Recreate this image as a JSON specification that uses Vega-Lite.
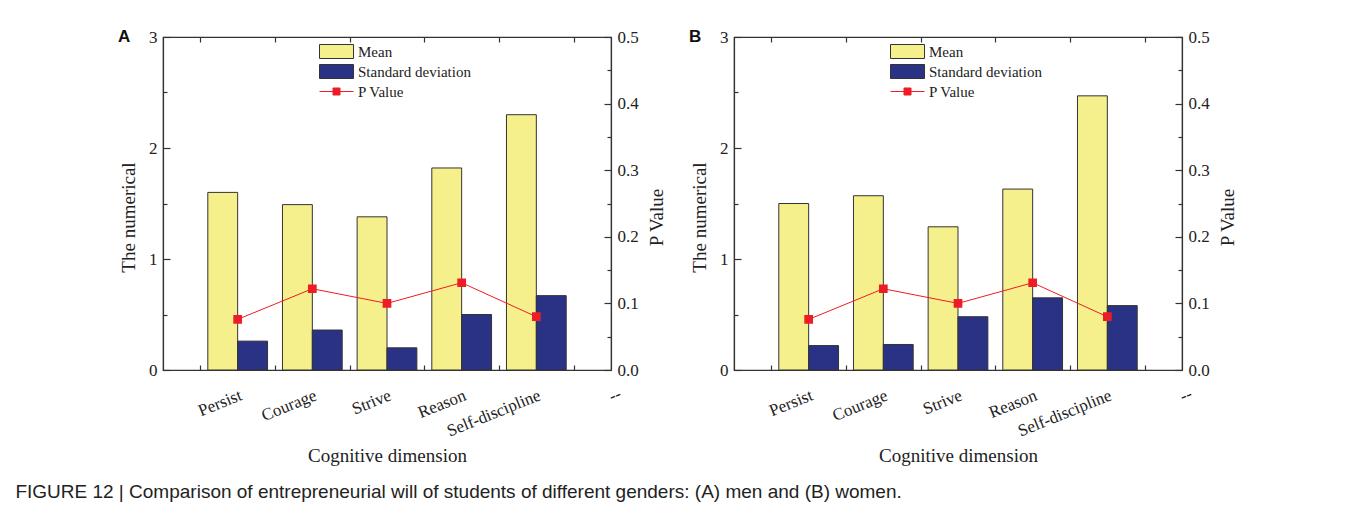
{
  "$schema": "https://vega.github.io/schema/vega-lite/v6.json",
  "padding": {"left": 15, "top": 27, "right": 5, "bottom": 5},
  "background": "white",
  "config": {
    "view": {"stroke": "#333", "strokeWidth": 1.2},
    "font": "Liberation Serif",
    "axis": {"domainColor": "#333", "domainWidth": 1.2, "tickColor": "#333", "tickWidth": 1.2, "labelColor": "#222", "titleColor": "#222", "labelFont": "Liberation Serif", "titleFont": "Liberation Serif", "titleFontWeight": "normal", "labelFontSize": 17, "titleFontSize": 19, "grid": false}
  },
  "datasets": {
    "bars": [
      {"panel": "A", "cat": "Persist", "series": "Mean", "value": 1.6},
      {"panel": "A", "cat": "Persist", "series": "Standard deviation", "value": 0.26},
      {"panel": "A", "cat": "Courage", "series": "Mean", "value": 1.49},
      {"panel": "A", "cat": "Courage", "series": "Standard deviation", "value": 0.36},
      {"panel": "A", "cat": "Strive", "series": "Mean", "value": 1.38},
      {"panel": "A", "cat": "Strive", "series": "Standard deviation", "value": 0.2},
      {"panel": "A", "cat": "Reason", "series": "Mean", "value": 1.82},
      {"panel": "A", "cat": "Reason", "series": "Standard deviation", "value": 0.5},
      {"panel": "A", "cat": "Self-discipline", "series": "Mean", "value": 2.3},
      {"panel": "A", "cat": "Self-discipline", "series": "Standard deviation", "value": 0.67},
      {"panel": "B", "cat": "Persist", "series": "Mean", "value": 1.5},
      {"panel": "B", "cat": "Persist", "series": "Standard deviation", "value": 0.22},
      {"panel": "B", "cat": "Courage", "series": "Mean", "value": 1.57},
      {"panel": "B", "cat": "Courage", "series": "Standard deviation", "value": 0.23},
      {"panel": "B", "cat": "Strive", "series": "Mean", "value": 1.29},
      {"panel": "B", "cat": "Strive", "series": "Standard deviation", "value": 0.48},
      {"panel": "B", "cat": "Reason", "series": "Mean", "value": 1.63},
      {"panel": "B", "cat": "Reason", "series": "Standard deviation", "value": 0.65},
      {"panel": "B", "cat": "Self-discipline", "series": "Mean", "value": 2.47},
      {"panel": "B", "cat": "Self-discipline", "series": "Standard deviation", "value": 0.58}
    ],
    "pvals": [
      {"panel": "A", "cat": "Persist", "p": 0.076},
      {"panel": "A", "cat": "Courage", "p": 0.122},
      {"panel": "A", "cat": "Strive", "p": 0.1},
      {"panel": "A", "cat": "Reason", "p": 0.131},
      {"panel": "A", "cat": "Self-discipline", "p": 0.08},
      {"panel": "B", "cat": "Persist", "p": 0.076},
      {"panel": "B", "cat": "Courage", "p": 0.122},
      {"panel": "B", "cat": "Strive", "p": 0.1},
      {"panel": "B", "cat": "Reason", "p": 0.131},
      {"panel": "B", "cat": "Self-discipline", "p": 0.08}
    ],
    "extra": [{"lab": "--"}]
  },
  "title": {"text": "FIGURE 12 | Comparison of entrepreneurial will of students of different genders: (A) men and (B) women.", "orient": "bottom", "anchor": "start", "frame": "bounds", "font": "Liberation Sans", "fontSize": 19, "fontWeight": "normal", "color": "#222", "dx": -102, "offset": 16},
  "spacing": 21,
  "resolve": {"scale": {"fill": "independent", "stroke": "independent"}},
  "hconcat": [
    {
      "title": {"text": "A", "anchor": "start", "frame": "group", "font": "Liberation Sans", "fontWeight": "bold", "fontSize": 17, "color": "#111", "dx": -45, "dy": 35, "offset": 0, "baseline": "bottom"},
      "width": 448,
      "height": 333,
      "resolve": {"scale": {"y": "independent", "x": "independent"}, "axis": {"x": "independent", "y": "independent"}},
      "layer": [
        {
          "data": {"name": "bars"},
          "transform": [{"filter": "datum.panel === 'A'"}],
          "mark": {"type": "bar", "stroke": "#333", "strokeWidth": 1},
          "encoding": {
            "x": {"field": "cat", "type": "nominal", "sort": ["Persist", "Courage", "Strive", "Reason", "Self-discipline"], "scale": {"paddingInner": 0, "paddingOuter": 0.5},
              "axis": {"orient": "bottom", "title": "Cognitive dimension", "labelAngle": -22, "labelAlign": "right", "labelBaseline": "top", "labelPadding": 22, "tickBand": "extent", "tickSize": -5, "titlePadding": 8}},
            "xOffset": {"field": "series", "type": "nominal", "sort": ["Mean", "Standard deviation"], "scale": {"paddingInner": 0, "paddingOuter": 0.25}},
            "y": {"field": "value", "type": "quantitative", "scale": {"domain": [0, 3]},
              "axis": {"orient": "left", "title": "The numerical", "values": [0, 0.5, 1, 1.5, 2, 2.5, 3], "labelExpr": "datum.value % 1 === 0 ? format(datum.value, 'd') : ''", "tickSize": {"condition": {"test": "datum.value % 1 === 0", "value": -7}, "value": -4}, "labelPadding": 13, "titlePadding": 10, "titleY": 180}},
            "fill": {"field": "series", "type": "nominal", "scale": {"domain": ["Mean", "Standard deviation"], "range": ["#f5f08c", "#2a3286"]},
              "legend": {"orient": "none", "legendX": 156, "legendY": 7, "title": null, "symbolType": "M-1,-1H3.86V1H-1Z", "symbolSize": 196, "labelFont": "Liberation Serif", "labelFontSize": 15, "labelColor": "#222", "labelOffset": 24, "rowPadding": 1, "symbolStrokeColor": "#333", "symbolStrokeWidth": 1}}
          }
        },
        {
          "data": {"name": "pvals"},
          "transform": [{"filter": "datum.panel === 'A'"}],
          "mark": {"type": "line", "strokeWidth": 1, "point": {"shape": "square", "size": 45, "filled": true, "fill": "#ee1c25"}},
          "encoding": {
            "x": {"field": "cat", "type": "nominal", "sort": ["Persist", "Courage", "Strive", "Reason", "Self-discipline"], "scale": {"paddingInner": 0, "paddingOuter": 0.5},
              "axis": {"orient": "top", "title": null, "labels": false, "tickBand": "extent", "tickSize": -5}},
            "y": {"field": "p", "type": "quantitative", "scale": {"domain": [0, 0.5]},
              "axis": {"orient": "right", "title": "P Value", "values": [0, 0.05, 0.1, 0.15, 0.2, 0.25, 0.3, 0.35, 0.4, 0.45, 0.5], "labelExpr": "abs(datum.value*10 - round(datum.value*10)) < 0.001 ? format(datum.value, '.1f') : ''", "tickSize": {"condition": {"test": "abs(datum.value*10 - round(datum.value*10)) < 0.001", "value": -7}, "value": -4}, "labelPadding": 13, "titlePadding": 9, "titleY": 180, "titleAngle": 270, "titleBaseline": "top"}},
            "stroke": {"datum": "P Value", "type": "nominal", "scale": {"range": ["#ee1c25"]},
              "legend": {"orient": "none", "legendX": 156, "legendY": 47, "title": null, "symbolType": "M-1,0H3.86M0.93,-0.5H1.93V0.5H0.93Z", "symbolSize": 196, "labelFont": "Liberation Serif", "labelFontSize": 15, "labelColor": "#222", "labelOffset": 24, "symbolStrokeWidth": 1,
                "encode": {"symbols": {"update": {"fill": {"value": "#ee1c25"}, "stroke": {"value": "#ee1c25"}}}}}}
          }
        },
        {
          "data": {"name": "extra"},
          "mark": {"type": "text", "angle": -22, "align": "right", "baseline": "top", "dy": 17, "font": "Liberation Serif", "fontSize": 17, "color": "#222"},
          "encoding": {
            "x": {"datum": 6, "type": "quantitative", "scale": {"domain": [0, 6]}, "axis": null},
            "y": {"datum": 0, "type": "quantitative", "scale": {"domain": [0, 3]}, "axis": null},
            "text": {"field": "lab"}
          }
        }
      ]
    },
    {
      "title": {"text": "B", "anchor": "start", "frame": "group", "font": "Liberation Sans", "fontWeight": "bold", "fontSize": 17, "color": "#111", "dx": -45, "dy": 35, "offset": 0, "baseline": "bottom"},
      "width": 448,
      "height": 333,
      "resolve": {"scale": {"y": "independent", "x": "independent"}, "axis": {"x": "independent", "y": "independent"}},
      "layer": [
        {
          "data": {"name": "bars"},
          "transform": [{"filter": "datum.panel === 'B'"}],
          "mark": {"type": "bar", "stroke": "#333", "strokeWidth": 1},
          "encoding": {
            "x": {"field": "cat", "type": "nominal", "sort": ["Persist", "Courage", "Strive", "Reason", "Self-discipline"], "scale": {"paddingInner": 0, "paddingOuter": 0.5},
              "axis": {"orient": "bottom", "title": "Cognitive dimension", "labelAngle": -22, "labelAlign": "right", "labelBaseline": "top", "labelPadding": 22, "tickBand": "extent", "tickSize": -5, "titlePadding": 8}},
            "xOffset": {"field": "series", "type": "nominal", "sort": ["Mean", "Standard deviation"], "scale": {"paddingInner": 0, "paddingOuter": 0.25}},
            "y": {"field": "value", "type": "quantitative", "scale": {"domain": [0, 3]},
              "axis": {"orient": "left", "title": "The numerical", "values": [0, 0.5, 1, 1.5, 2, 2.5, 3], "labelExpr": "datum.value % 1 === 0 ? format(datum.value, 'd') : ''", "tickSize": {"condition": {"test": "datum.value % 1 === 0", "value": -7}, "value": -4}, "labelPadding": 13, "titlePadding": 10, "titleY": 180}},
            "fill": {"field": "series", "type": "nominal", "scale": {"domain": ["Mean", "Standard deviation"], "range": ["#f5f08c", "#2a3286"]},
              "legend": {"orient": "none", "legendX": 156, "legendY": 7, "title": null, "symbolType": "M-1,-1H3.86V1H-1Z", "symbolSize": 196, "labelFont": "Liberation Serif", "labelFontSize": 15, "labelColor": "#222", "labelOffset": 24, "rowPadding": 1, "symbolStrokeColor": "#333", "symbolStrokeWidth": 1}}
          }
        },
        {
          "data": {"name": "pvals"},
          "transform": [{"filter": "datum.panel === 'B'"}],
          "mark": {"type": "line", "strokeWidth": 1, "point": {"shape": "square", "size": 45, "filled": true, "fill": "#ee1c25"}},
          "encoding": {
            "x": {"field": "cat", "type": "nominal", "sort": ["Persist", "Courage", "Strive", "Reason", "Self-discipline"], "scale": {"paddingInner": 0, "paddingOuter": 0.5},
              "axis": {"orient": "top", "title": null, "labels": false, "tickBand": "extent", "tickSize": -5}},
            "y": {"field": "p", "type": "quantitative", "scale": {"domain": [0, 0.5]},
              "axis": {"orient": "right", "title": "P Value", "values": [0, 0.05, 0.1, 0.15, 0.2, 0.25, 0.3, 0.35, 0.4, 0.45, 0.5], "labelExpr": "abs(datum.value*10 - round(datum.value*10)) < 0.001 ? format(datum.value, '.1f') : ''", "tickSize": {"condition": {"test": "abs(datum.value*10 - round(datum.value*10)) < 0.001", "value": -7}, "value": -4}, "labelPadding": 13, "titlePadding": 9, "titleY": 180, "titleAngle": 270, "titleBaseline": "top"}},
            "stroke": {"datum": "P Value", "type": "nominal", "scale": {"range": ["#ee1c25"]},
              "legend": {"orient": "none", "legendX": 156, "legendY": 47, "title": null, "symbolType": "M-1,0H3.86M0.93,-0.5H1.93V0.5H0.93Z", "symbolSize": 196, "labelFont": "Liberation Serif", "labelFontSize": 15, "labelColor": "#222", "labelOffset": 24, "symbolStrokeWidth": 1,
                "encode": {"symbols": {"update": {"fill": {"value": "#ee1c25"}, "stroke": {"value": "#ee1c25"}}}}}}
          }
        },
        {
          "data": {"name": "extra"},
          "mark": {"type": "text", "angle": -22, "align": "right", "baseline": "top", "dy": 17, "font": "Liberation Serif", "fontSize": 17, "color": "#222"},
          "encoding": {
            "x": {"datum": 6, "type": "quantitative", "scale": {"domain": [0, 6]}, "axis": null},
            "y": {"datum": 0, "type": "quantitative", "scale": {"domain": [0, 3]}, "axis": null},
            "text": {"field": "lab"}
          }
        }
      ]
    }
  ]
}
